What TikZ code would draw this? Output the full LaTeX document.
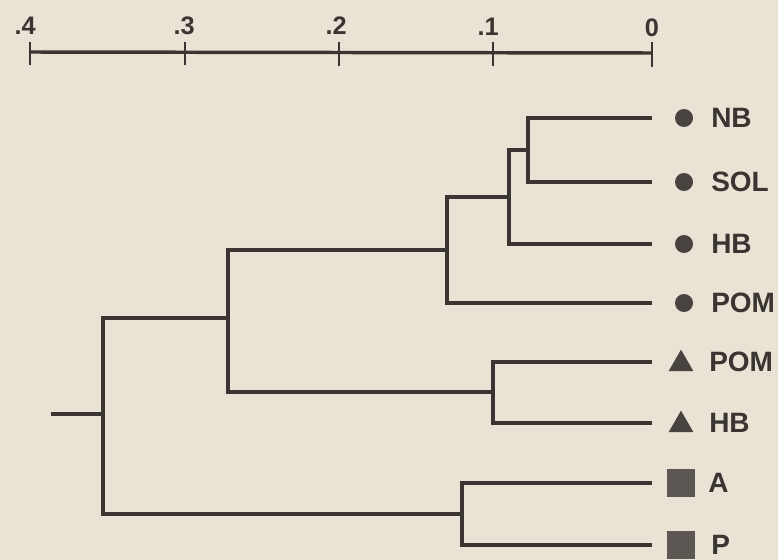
\documentclass[tikz,border=0pt]{standalone}
\usepackage{fontspec}
\setmainfont{Liberation Sans}
\usetikzlibrary{shapes.geometric,positioning}
\definecolor{paper}{RGB}{233,227,214}
\definecolor{ink}{RGB}{58,53,49}
\definecolor{markgray}{RGB}{72,67,62}
\definecolor{boxgray}{RGB}{92,87,82}
\tikzset{
  branch/.style={draw=ink, line width=2.4pt},
  axisline/.style={draw=ink, line width=2.6pt},
  tickline/.style={draw=ink, line width=1.3pt},
  scalelab/.style={text=ink, inner sep=0pt, font=\fontsize{19pt}{23pt}\selectfont\bfseries},
  leaflab/.style={text=ink, inner sep=0pt, anchor=west, font=\fontsize{21pt}{25pt}\selectfont\bfseries},
  dotmark/.style={circle, fill=markgray, inner sep=0pt, minimum size=13.5pt},
  trimark/.style={regular polygon, regular polygon sides=3, fill=markgray, inner sep=0pt, minimum size=21.5pt},
  boxmark/.style={rectangle, fill=boxgray, inner sep=0pt, minimum size=21pt},
}
\begin{document}
\begin{tikzpicture}[x=0.75pt,y=0.75pt,yscale=-1,xscale=1]
\path[fill=paper] (0,0) rectangle (778,560);

% Scale bar
\draw[axisline] (30,52) -- (652,53);
\draw[tickline] (30,42) -- (30,65);
\draw[tickline] (185,42) -- (185,65);
\draw[tickline] (339,42) -- (339,66);
\draw[tickline] (493,42) -- (493,66);
\draw[tickline] (652,42) -- (652,67);

% Text Node
\node[scalelab, anchor=base east] (s4) at (36,35) {.4};
% Text Node
\node[scalelab, anchor=base east] (s3) at (195,35) {.3};
% Text Node
\node[scalelab, anchor=base east] (s2) at (347,35) {.2};
% Text Node
\node[scalelab, anchor=base east] (s1) at (499,36) {.1};
% Text Node
\node[scalelab, anchor=base] (s0) at (652,37) {0};

% Leaves
\coordinate (nb) at (652,118);
\coordinate (sol) at (652,182);
\coordinate (hbc) at (652,244);
\coordinate (pomc) at (652,303);
\coordinate (pomt) at (652,362);
\coordinate (hbt) at (652,423);
\coordinate (a) at (652,483);
\coordinate (p) at (652,545);

% Joins
\coordinate (j1) at (528,150);
\coordinate (j2) at (509,197);
\coordinate (j3) at (447,250);
\coordinate (j4) at (493,392);
\coordinate (j5) at (228,318);
\coordinate (j6) at (462,514);
\coordinate (j7) at (103,414);
\coordinate (root) at (51,414);

% Branches
\draw[branch] (nb) -| (j1) |- (sol);
\draw[branch] (j1) -| (j2) |- (hbc);
\draw[branch] (j2) -| (j3) |- (pomc);
\draw[branch] (pomt) -| (j4) |- (hbt);
\draw[branch] (j3) -| (j5) |- (j4);
\draw[branch] (a) -| (j6) |- (p);
\draw[branch] (j5) -| (j7) |- (j6);
\draw[branch] (root) -- (j7);

% Markers
\node[dotmark] (nbm) at (684,118) {};
\node[dotmark] (solm) at (684,182) {};
\node[dotmark] (hbcm) at (684,244) {};
\node[dotmark] (pomcm) at (684,303) {};
\node[trimark] (pomtm) at (681,364) {};
\node[trimark] (hbtm) at (681,425) {};
\node[boxmark] (am) at (681,483) {};
\node[boxmark] (pm) at (681,545) {};

% Text Node
\node[leaflab] (nbl) at (711,118) {NB};
% Text Node
\node[leaflab] (soll) at (711,182) {SOL};
% Text Node
\node[leaflab] (hbcl) at (711,244) {HB};
% Text Node
\node[leaflab] (pomcl) at (711,303) {POM};
% Text Node
\node[leaflab] (pomtl) at (709,362) {POM};
% Text Node
\node[leaflab] (hbtl) at (709,423) {HB};
% Text Node
\node[leaflab] (al) at (708,483) {A};
% Text Node
\node[leaflab] (pl) at (711,545) {P};

\end{tikzpicture}
\end{document}
